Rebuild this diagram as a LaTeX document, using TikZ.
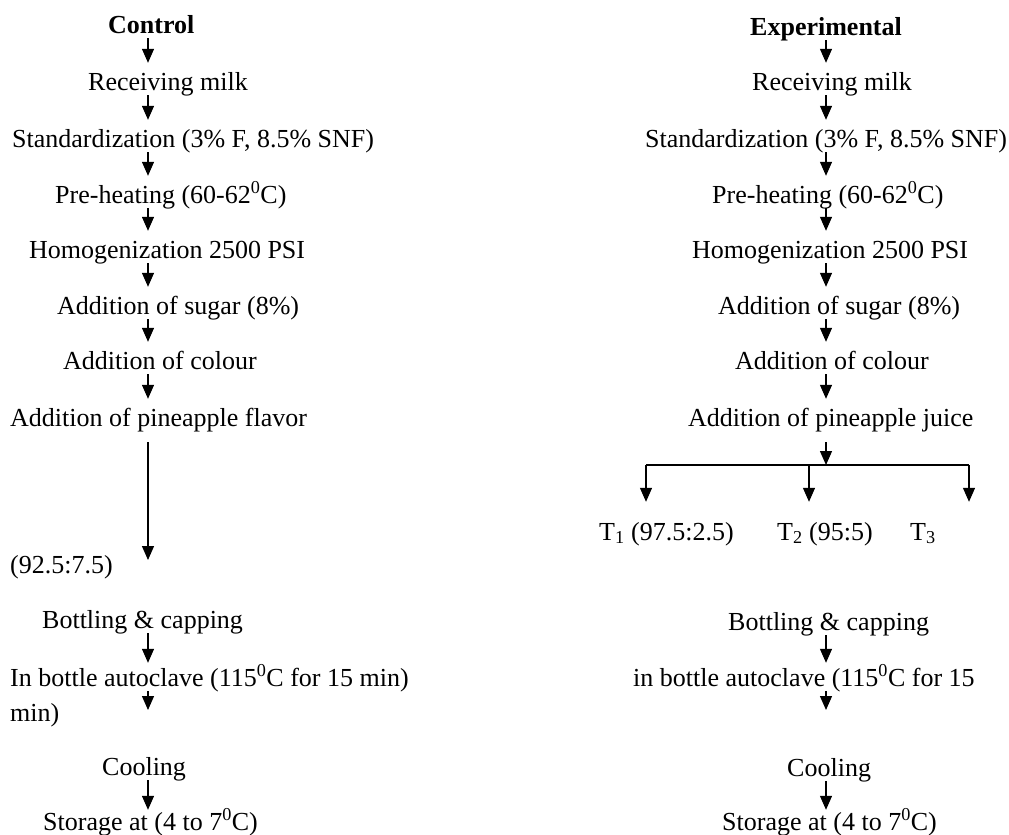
\documentclass[tikz,border=0pt]{standalone}
\usepackage{fontspec}
\setmainfont{Liberation Serif}
\usetikzlibrary{arrows.meta}

\begin{document}
\begin{tikzpicture}[x=1pt,y=-1pt,
        lbl/.style={anchor=base west,inner sep=0pt,text height=27pt,text depth=5pt,
            font=\fontsize{26}{31}\selectfont},
        arr/.style={line width=1.3pt,-{Triangle[width=12pt,length=14pt]}}]
        \useasboundingbox (0,0) rectangle (1009,835);
        \coordinate (colL) at (148,0);
        \coordinate (colR) at (826,0);

        % control
        \node[lbl] (ctrl) at (108,33) {\textbf{Control}};
        \node[lbl] (recv) at (88,90) {Receiving milk};
        \node[lbl] (std) at (12,147) {Standardization (3\% F, 8.5\% SNF)};
        \node[lbl] (heat) at (55,203) {Pre-heating (60-62\textsuperscript{0}C)};
        \node[lbl] (homo) at (29,258) {Homogenization 2500 PSI};
        \node[lbl] (sugar) at (57,314) {Addition of sugar (8\%)};
        \node[lbl] (col) at (63,369) {Addition of colour};
        \node[lbl] (flav) at (10,426) {Addition of pineapple flavor};
        \node[lbl] (ratio) at (10,573) {(92.5:7.5)};
        \node[lbl] (bott) at (42,628) {Bottling \& capping};
        \node[lbl] (auto) at (10,686) {In bottle autoclave (115\textsuperscript{0}C for 15 min)};
        \node[lbl] (min) at (10,721) {min)};
        \node[lbl] (cool) at (102,775) {Cooling};
        \node[lbl] (stor) at (43,830) {Storage at (4 to 7\textsuperscript{0}C)};
        \coordinate (flavEnd) at (148,560);
        \coordinate (autoEnd) at (148,710);

        \foreach \a/\b in {ctrl/recv,recv/std,std/heat,heat/homo,homo/sugar,sugar/col,col/flav}
            \draw[arr] (\a.south -| colL) -- (\b.north -| colL);
        \draw[arr,shorten <=11pt] (flav.south -| colL) -- (flavEnd);
        \draw[arr,shorten >=-4pt] (bott.south -| colL) -- (auto.north -| colL);
        \draw[arr] (auto.south -| colL) -- (autoEnd);
        \draw[arr,shorten >=-7pt] (cool.south -| colL) -- (stor.north -| colL);

        % experimental
        \node[lbl] (exp) at (750,35) {\textbf{Experimental}};
        \node[lbl] (recv2) at (752,90) {Receiving milk};
        \node[lbl] (std2) at (645,147) {Standardization (3\% F, 8.5\% SNF)};
        \node[lbl] (heat2) at (712,203) {Pre-heating (60-62\textsuperscript{0}C)};
        \node[lbl] (homo2) at (692,258) {Homogenization 2500 PSI};
        \node[lbl] (sugar2) at (718,314) {Addition of sugar (8\%)};
        \node[lbl] (col2) at (735,369) {Addition of colour};
        \node[lbl] (juice) at (688,426) {Addition of pineapple juice};
        \node[lbl] (t1) at (599,540) {T\textsubscript{1} (97.5:2.5)};
        \node[lbl] (t2) at (777,540) {T\textsubscript{2} (95:5)};
        \node[lbl] (t3) at (910,540) {T\textsubscript{3}};
        \node[lbl] (bott2) at (728,630) {Bottling \& capping};
        \node[lbl] (auto2) at (633,686) {in bottle autoclave (115\textsuperscript{0}C for 15};
        \node[lbl] (cool2) at (787,776) {Cooling};
        \node[lbl] (stor2) at (722,830) {Storage at (4 to 7\textsuperscript{0}C)};
        \coordinate (bar) at (826,465);
        \coordinate (barL) at (646,465);
        \coordinate (barM) at (809,465);
        \coordinate (barR) at (969,465);
        \coordinate (autoEnd2) at (826,710);

        \foreach \a/\b in {exp/recv2,recv2/std2,std2/heat2,heat2/homo2,homo2/sugar2,sugar2/col2,col2/juice}
            \draw[arr] (\a.south -| colR) -- (\b.north -| colR);
        \draw[arr,shorten <=11pt] (juice.south -| colR) -- (bar);
        \draw[line width=1.3pt] (barL) -- (barR);
        \draw[arr,shorten >=11pt] (barL) -- (barL |- t1.north);
        \draw[arr,shorten >=11pt] (barM) -- (barM |- t2.north);
        \draw[arr,shorten >=11pt] (barR) -- (barR |- t3.north);
        \draw[arr,shorten >=-4pt] (bott2.south -| colR) -- (auto2.north -| colR);
        \draw[arr] (auto2.south -| colR) -- (autoEnd2);
        \draw[arr,shorten >=-7pt] (cool2.south -| colR) -- (stor2.north -| colR);
    \end{tikzpicture}
\end{document}
